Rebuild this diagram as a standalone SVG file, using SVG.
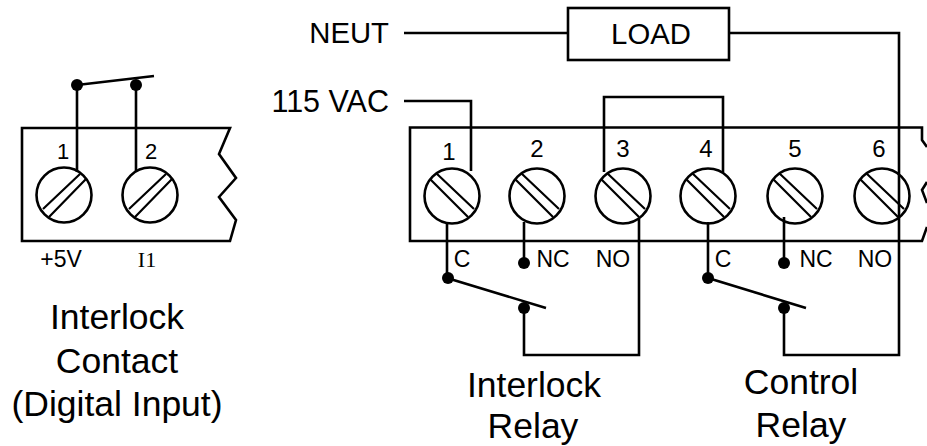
<svg xmlns="http://www.w3.org/2000/svg" xmlns:xlink="http://www.w3.org/1999/xlink" width="927" height="446" viewBox="0 0 927 446">
<style>
.l{fill:none;stroke:#000;stroke-width:2.6;stroke-linejoin:miter}
.t{stroke-width:2.2}
.d{fill:#000}
text{font-family:"Liberation Sans",Arial,sans-serif;fill:#000}
.big{font-size:35.5px;text-anchor:middle}
.mid{font-size:29.3px}
.num{font-size:24px;text-anchor:middle}
.tag{font-size:23px;text-anchor:middle}
</style>
<defs>
<g id="screwL"><circle class="l" r="27.5"/><path class="l t" d="M-21 14L16-21M-15 22L22-16"/></g>
<g id="screwR"><circle class="l" r="27.5"/><path class="l t" d="M-16-23L22 13M-22-17L16 21"/></g>
</defs>
<g id="interlock-block">
<path class="l" d="M230 128H22V241H230L236 220L219 197L236 178L219 154Z"/>
</g>
<g id="relay-block"><path class="l" d="M927 147L922 140V127.500H410V241H922L927 227M927 182L922 190L927 203"/></g>
<g id="connectors">
<path class="l" d="M77 85V172M136 85V172M77 85L154 76"/>
<path class="l" d="M404 33H568M729 33H899V355H784V308M404 101H471V171M604 172V97H723V172"/>
<path class="l" d="M447 222V278L546 308M524 222V263M639 219V355H524V308M708 222V278L806 308M784 217V263"/>
<circle class="d" cx="77" cy="85" r="6"/><circle class="d" cx="136" cy="85" r="6"/>
<circle class="d" cx="448" cy="278" r="6"/><circle class="d" cx="524" cy="308" r="6"/><circle class="d" cx="524" cy="263" r="6"/>
<circle class="d" cx="708" cy="278" r="6"/><circle class="d" cx="784" cy="308" r="6"/><circle class="d" cx="784" cy="263" r="6"/>
</g>
<g id="load"><rect class="l" x="568" y="8" width="161" height="52"/><text class="mid" x="651" y="44" text-anchor="middle">LOAD</text></g>
<g id="screw-left-1"><use xlink:href="#screwL" x="64" y="195"/><text class="num" x="63" y="159" style="font-size:22px">1</text><text class="tag" x="61" y="267">+5V</text></g>
<g id="screw-left-2"><use xlink:href="#screwL" x="150" y="195"/><text class="num" x="151" y="159" style="font-size:22px">2</text><text x="147" y="267" text-anchor="middle" style="font-family:'Liberation Serif',serif;font-size:22px">I1</text></g>
<g id="t1"><use xlink:href="#screwR" x="452" y="196"/><text class="num" x="449" y="160">1</text><text class="tag" x="462" y="267">C</text></g>
<g id="t2"><use xlink:href="#screwR" x="537" y="196"/><text class="num" x="537" y="157">2</text><text class="tag" x="553" y="267">NC</text></g>
<g id="t3"><use xlink:href="#screwR" x="623" y="196"/><text class="num" x="623" y="157">3</text><text class="tag" x="613" y="267">NO</text></g>
<g id="t4"><use xlink:href="#screwR" x="708" y="196"/><text class="num" x="706" y="157">4</text><text class="tag" x="723" y="267">C</text></g>
<g id="t5"><use xlink:href="#screwR" x="795" y="196"/><text class="num" x="795" y="157">5</text><text class="tag" x="816" y="267">NC</text></g>
<g id="t6"><use xlink:href="#screwR" x="882" y="196"/><text class="num" x="879" y="157">6</text><text class="tag" x="875" y="267">NO</text></g>
<g id="labels">
<text class="mid" x="389" y="43" text-anchor="end">NEUT</text>
<text x="389" y="112" text-anchor="end" style="font-size:30.500px">115 VAC</text>
<text class="big" x="117" y="329">Interlock</text>
<text class="big" x="117" y="373">Contact</text>
<text class="big" x="117" y="416">(Digital Input)</text>
<text class="big" x="534" y="397">Interlock</text>
<text class="big" x="533" y="438">Relay</text>
<text class="big" x="801" y="394">Control</text>
<text class="big" x="801" y="437">Relay</text>
</g>
</svg>
